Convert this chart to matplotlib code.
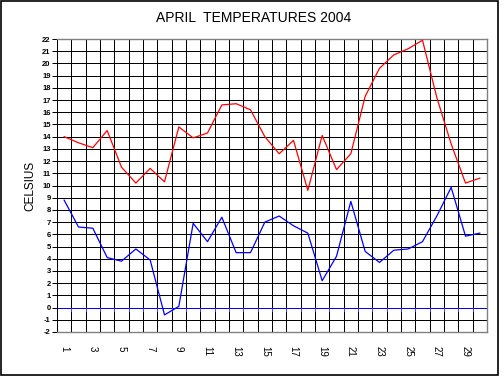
import matplotlib
matplotlib.use("Agg")
import matplotlib.pyplot as plt
from matplotlib.patches import Rectangle
import numpy as np

# April 2004, daily max / min temperatures
days = list(range(1, 31))
t_max = [14.0, 13.5, 13.1, 14.5, 11.5, 10.2, 11.4, 10.3, 14.8, 13.9,
         14.3, 16.6, 16.7, 16.2, 14.0, 12.6, 13.7, 9.6, 14.1, 11.3,
         12.6, 17.3, 19.6, 20.7, 21.2, 21.9, 17.2, 13.4, 10.2, 10.6]
t_min = [8.8, 6.6, 6.5, 4.1, 3.8, 4.8, 3.9, -0.6, 0.1, 6.9,
         5.4, 7.4, 4.5, 4.5, 7.0, 7.5, 6.7, 6.1, 2.2, 4.2,
         8.7, 4.6, 3.7, 4.7, 4.8, 5.4, 7.5, 9.85, 5.85, 6.1]
xlabels = [str(d) if d % 2 == 1 else "" for d in days]
yticks = list(range(-2, 23))

plt.rcParams['font.family'] = ['Liberation Sans', 'DejaVu Sans']

fig = plt.figure(figsize=(5.04, 3.76), dpi=100)
ax = fig.add_axes([57/504, 1-332/376, 430/504, 293/376])

px = 0.72  # one pixel at 100 dpi

# grid: horizontal every degree, vertical at category boundaries
for v in yticks:
    ax.axhline(v, color='black', lw=px, zorder=1, antialiased=False)
for k in range(31):
    ax.axvline(0.5 + k, color='black', lw=px, zorder=1, antialiased=False)

# zero line with little downward ticks (category axis crossing)
ax.axhline(0, color='#0000FF', lw=px, zorder=2, antialiased=False)
ax.vlines([0.5 + k for k in range(31)], -0.3, 0, color='#3a3aff', lw=px,
          zorder=2, antialiased=False)

ax.plot(days, t_max, color='#FF0000', lw=0.9, zorder=3)
ax.plot(days, t_min, color='#0000FF', lw=0.9, zorder=3)

ax.set_xlim(0.5, 30.5)
ax.set_ylim(-2, 22)
ax.set_yticks(yticks)
ax.set_yticklabels([str(v) for v in yticks], fontsize=5.5, fontweight='bold')
ax.set_xticks(days)
ax.set_xticklabels(xlabels, fontsize=7, rotation=270, va='top', ha='center')
ax.tick_params(axis='x', length=0, pad=10)
ax.tick_params(axis='y', length=3.5, width=px, pad=1, color='black')

for s in ['top', 'right', 'bottom']:
    ax.spines[s].set_color('#808080')
    ax.spines[s].set_linewidth(1.0)
ax.spines['left'].set_color('black')
ax.spines['left'].set_linewidth(px)

ax.set_ylabel("CELSIUS", fontsize=8.5, labelpad=4)
fig.text(254/504, 1-18/376, "APRIL  TEMPERATURES 2004", fontsize=10,
         ha='center', va='center')

# outer frame
fig.patches.append(Rectangle((0.6/504, 0.8/376), 497.5/504, 374.5/376,
                             transform=fig.transFigure, fill=False,
                             edgecolor='black', lw=1.2))

fig.savefig("out.png", dpi=100)
